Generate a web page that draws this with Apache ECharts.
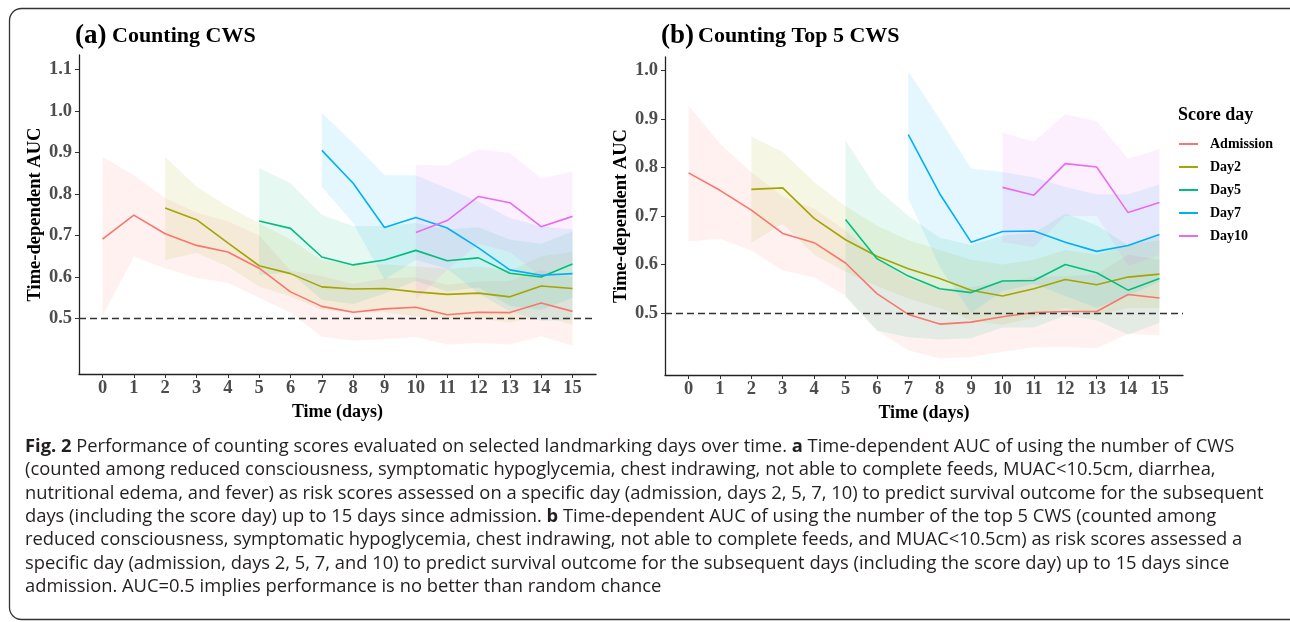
<!DOCTYPE html>
<html>
<head>
<meta charset="utf-8">
<script src="https://cdn.jsdelivr.net/npm/echarts@6/dist/echarts.min.js"></script>
<style>
html,body{margin:0;padding:0;background:#fff;}
#chart{width:1290px;height:622px;}
</style>
</head>
<body>
<div id="chart"></div>
<script>
// ---- data ----
const days = [0,1,2,3,4,5,6,7,8,9,10,11,12,13,14,15];
const xTicks = [0,1,2,3,4,5,6,7,8,9,10,11,12,13,14,15];
const yTicksA = [0.5,0.6,0.7,0.8,0.9,1.0,1.1];
const yTicksB = [0.5,0.6,0.7,0.8,0.9,1.0];
const seriesNames = ['Admission','Day2','Day5','Day7','Day10'];
const startDays = [0,2,5,7,10];

// panel (a) Counting CWS
const admA = [0.691,0.749,0.704,0.676,0.660,0.621,0.564,0.529,0.515,0.523,0.527,0.509,0.515,0.514,0.537,0.517];
const admALo = [0.505,0.649,0.621,0.598,0.586,0.550,0.514,0.456,0.447,0.450,0.455,0.437,0.441,0.437,0.457,0.434];
const admAHi = [0.889,0.845,0.790,0.755,0.734,0.700,0.615,0.602,0.583,0.596,0.599,0.581,0.589,0.591,0.617,0.600];
const day2A = [0.766,0.738,0.682,0.627,0.608,0.576,0.571,0.572,0.564,0.558,0.561,0.552,0.578,0.572];
const day2ALo = [0.641,0.658,0.625,0.577,0.553,0.521,0.515,0.515,0.505,0.500,0.500,0.490,0.505,0.485];
const day2AHi = [0.889,0.818,0.770,0.730,0.690,0.640,0.630,0.630,0.625,0.620,0.625,0.615,0.650,0.660];
const day5A = [0.735,0.717,0.648,0.629,0.641,0.664,0.639,0.646,0.609,0.600,0.631];
const day5ALo = [0.605,0.610,0.545,0.535,0.560,0.590,0.565,0.575,0.530,0.520,0.550];
const day5AHi = [0.862,0.826,0.750,0.722,0.723,0.730,0.715,0.720,0.690,0.680,0.710];
const day7A = [0.905,0.826,0.719,0.743,0.718,0.670,0.617,0.604,0.608];
const day7ALo = [0.817,0.730,0.593,0.641,0.620,0.560,0.517,0.494,0.497];
const day7AHi = [0.995,0.923,0.846,0.845,0.814,0.782,0.742,0.722,0.715];
const day10A = [0.707,0.736,0.794,0.779,0.721,0.746];
const day10ALo = [0.545,0.617,0.680,0.660,0.600,0.630];
const day10AHi = [0.870,0.869,0.908,0.899,0.837,0.854];

// panel (b) Counting Top 5 CWS
const admB = [0.789,0.753,0.712,0.664,0.645,0.603,0.540,0.497,0.477,0.481,0.492,0.501,0.503,0.503,0.538,0.531];
const admBLo = [0.648,0.653,0.629,0.588,0.573,0.536,0.464,0.423,0.406,0.409,0.420,0.429,0.430,0.427,0.457,0.454];
const admBHi = [0.928,0.849,0.790,0.740,0.715,0.670,0.615,0.570,0.550,0.553,0.565,0.574,0.576,0.580,0.620,0.610];
const day2B = [0.755,0.758,0.695,0.651,0.617,0.591,0.571,0.547,0.535,0.550,0.569,0.558,0.574,0.580];
const day2BLo = [0.645,0.684,0.620,0.585,0.555,0.530,0.510,0.485,0.475,0.490,0.510,0.495,0.510,0.510];
const day2BHi = [0.864,0.832,0.770,0.720,0.680,0.650,0.630,0.610,0.600,0.610,0.630,0.620,0.640,0.650];
const day5B = [0.693,0.612,0.576,0.550,0.542,0.566,0.567,0.600,0.583,0.547,0.571];
const day5BLo = [0.533,0.464,0.450,0.445,0.448,0.470,0.470,0.495,0.485,0.455,0.480];
const day5BHi = [0.856,0.756,0.700,0.655,0.640,0.660,0.665,0.705,0.681,0.640,0.660];
const day7B = [0.868,0.746,0.646,0.668,0.669,0.646,0.627,0.639,0.662];
const day7BLo = [0.736,0.595,0.500,0.545,0.560,0.535,0.510,0.535,0.565];
const day7BHi = [0.998,0.900,0.798,0.791,0.780,0.760,0.745,0.745,0.765];
const day10B = [0.759,0.743,0.808,0.801,0.707,0.728];
const day10BLo = [0.646,0.636,0.700,0.700,0.597,0.620];
const day10BHi = [0.872,0.853,0.910,0.896,0.818,0.838];

const captionLines = [
  '{b|Fig. 2} Performance of counting scores evaluated on selected landmarking days over time. {b|a} Time-dependent AUC of using the number of CWS',
  '(counted among reduced consciousness, symptomatic hypoglycemia, chest indrawing, not able to complete feeds, MUAC<10.5cm, diarrhea,',
  'nutritional edema, and fever) as risk scores assessed on a specific day (admission, days 2, 5, 7, 10) to predict survival outcome for the subsequent',
  'days (including the score day) up to 15 days since admission. {b|b} Time-dependent AUC of using the number of the top 5 CWS (counted among',
  'reduced consciousness, symptomatic hypoglycemia, chest indrawing, not able to complete feeds, and MUAC<10.5cm) as risk scores assessed a',
  'specific day (admission, days 2, 5, 7, and 10) to predict survival outcome for the subsequent days (including the score day) up to 15 days since',
  'admission. AUC=0.5 implies performance is no better than random chance'
];

// ---- styling ----
const colors = ['#F8766D','#A3A500','#00BF7D','#00B0F6','#E76BF3'];
const bandFill = ['rgba(248,118,109,0.1)','rgba(163,165,0,0.1)','rgba(0,191,125,0.1)','rgba(0,176,246,0.1)','rgba(231,107,243,0.1)'];
const serif = 'Liberation Serif';

const panelA = {est:[admA,day2A,day5A,day7A,day10A], lo:[admALo,day2ALo,day5ALo,day7ALo,day10ALo], hi:[admAHi,day2AHi,day5AHi,day7AHi,day10AHi]};
const panelB = {est:[admB,day2B,day5B,day7B,day10B], lo:[admBLo,day2BLo,day5BLo,day7BLo,day10BLo], hi:[admBHi,day2BHi,day5BHi,day7BHi,day10BHi]};

function buildSeries(panel, idx) {
  const out = [];
  for (let s = 0; s < 5; s++) {
    const start = startDays[s];
    const xs = days.slice(start);
    const bandData = xs.map((d, i) => [d, panel.lo[s][i], panel.hi[s][i]]);
    out.push({
      type: 'custom', name: seriesNames[s] + ' band', xAxisIndex: idx, yAxisIndex: idx,
      z: 1, silent: true,
      encode: {x: 0, y: [1, 2]},
      data: bandData,
      renderItem: (function (data, fill) {
        return function (params, api) {
          if (params.dataIndex !== 0) return null;
          const up = [], dn = [];
          for (let i = 0; i < data.length; i++) {
            dn.push(api.coord([data[i][0], data[i][1]]));
            up.push(api.coord([data[i][0], data[i][2]]));
          }
          return {type: 'polygon', shape: {points: dn.concat(up.reverse())}, style: {fill: fill, stroke: null}};
        };
      })(bandData, bandFill[s])
    });
  }
  for (let s = 0; s < 5; s++) {
    const start = startDays[s];
    const xs = days.slice(start);
    const ser = {
      type: 'line', name: seriesNames[s], xAxisIndex: idx, yAxisIndex: idx, z: 3,
      showSymbol: false, symbol: 'none', silent: true,
      lineStyle: {color: colors[s], width: 1.6},
      itemStyle: {color: colors[s]},
      data: xs.map((d, i) => [d, panel.est[s][i]])
    };
    if (s === 0) {
      ser.markLine = {
        silent: true, symbol: ['none','none'], label: {show: false},
        lineStyle: {type: [7,4], color: '#333', width: 1.4},
        data: [{yAxis: 0.5}]
      };
    }
    out.push(ser);
  }
  return out;
}

function xAxisDef(idx) {
  return {
    type: 'value', gridIndex: idx, min: -0.75, max: 15.75,
    axisLine: {show: true, onZero: false, lineStyle: {color: '#222', width: 1.3}},
    axisTick: {show: true, length: 4, customValues: xTicks, lineStyle: {color: '#333', width: 1}},
    axisLabel: {customValues: xTicks, margin: 5, fontFamily: serif, fontWeight: 'bold', fontSize: 18.5, color: '#4D4D4D'},
    splitLine: {show: false},
    name: 'Time (days)', nameLocation: 'middle', nameGap: 22,
    nameTextStyle: {fontFamily: serif, fontWeight: 'bold', fontSize: 18, color: '#000'}
  };
}
function yAxisDef(idx, min, max, ticks, gap) {
  return {
    type: 'value', gridIndex: idx, min: min, max: max,
    axisLine: {show: true, onZero: false, lineStyle: {color: '#222', width: 1.3}},
    axisTick: {show: true, length: 4, customValues: ticks, lineStyle: {color: '#333', width: 1}},
    axisLabel: {customValues: ticks, margin: 7, fontFamily: serif, fontWeight: 'bold', fontSize: 18.5, color: '#4D4D4D',
      formatter: v => v.toFixed(1)},
    splitLine: {show: false},
    name: 'Time-dependent AUC', nameLocation: 'middle', nameGap: gap, nameRotate: 90,
    nameTextStyle: {fontFamily: serif, fontWeight: 'bold', fontSize: 18.5, color: '#000'}
  };
}

const graphics = [
  {type: 'rect', shape: {x: 9.5, y: 8.5, width: 1292, height: 611, r: 12}, style: {fill: 'none', stroke: '#333', lineWidth: 1.3}, silent: true, z: 0},
  {type: 'text', x: 75, y: 36, style: {text: '(a)', font: 'bold 27px "Liberation Serif"', fill: '#000', verticalAlign: 'middle'}},
  {type: 'text', x: 112, y: 36, style: {text: 'Counting CWS', font: 'bold 22px "Liberation Serif"', fill: '#000', verticalAlign: 'middle'}},
  {type: 'text', x: 661, y: 36, style: {text: '(b)', font: 'bold 27px "Liberation Serif"', fill: '#000', verticalAlign: 'middle'}},
  {type: 'text', x: 698, y: 36, style: {text: 'Counting Top 5 CWS', font: 'bold 22px "Liberation Serif"', fill: '#000', verticalAlign: 'middle'}},
  {type: 'text', x: 1178, y: 115, style: {text: 'Score day', font: 'bold 18px "Liberation Serif"', fill: '#000', verticalAlign: 'middle'}}
];
const lineYs = [446.7, 470, 493.3, 516.7, 540, 563.3, 586.7];
captionLines.forEach((t, i) => {
  graphics.push({type: 'text', x: 25, y: lineYs[i], style: {
    text: t, font: '18.35px "Open Sans"', fill: '#231F20', verticalAlign: 'middle',
    rich: {b: {font: 'bold 18.35px "Open Sans"', fill: '#231F20'}}
  }});
});

const option = {
  animation: false,
  backgroundColor: '#fff',
  grid: [
    {left: 79, top: 55, width: 517, height: 319},
    {left: 665, top: 57, width: 518, height: 318}
  ],
  xAxis: [xAxisDef(0), xAxisDef(1)],
  yAxis: [yAxisDef(0, 0.366, 1.135, yTicksA, 31), yAxisDef(1, 0.372, 1.028, yTicksB, 32)],
  legend: {
    data: seriesNames, orient: 'vertical', left: 1174, top: 132,
    icon: 'rect', itemWidth: 19, itemHeight: 2, itemGap: 9,
    textStyle: {fontFamily: serif, fontWeight: 'bold', fontSize: 14, color: '#000', padding: [0,0,0,7]},
    selectedMode: false
  },
  graphic: graphics,
  series: buildSeries(panelA, 0).concat(buildSeries(panelB, 1))
};

const chart = echarts.init(document.getElementById('chart'), null, {renderer: 'canvas'});
chart.setOption(option);
</script>
</body>
</html>
